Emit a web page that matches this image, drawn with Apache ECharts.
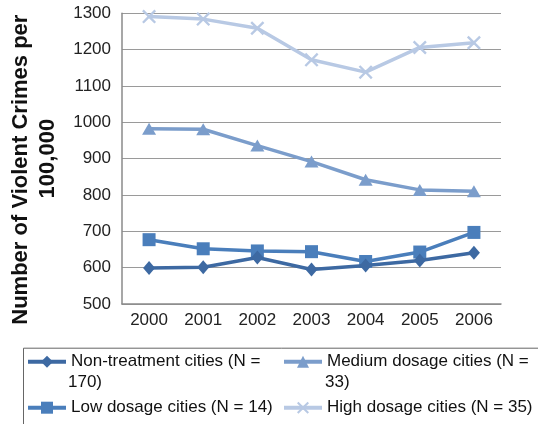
<!DOCTYPE html>
<html>
<head>
<meta charset="utf-8">
<script src="https://cdn.jsdelivr.net/npm/echarts@6/dist/echarts.min.js"></script>
<style>html,body{margin:0;padding:0;background:#fff;}#c{width:538px;height:424px;}</style>
</head>
<body>
<div id="c"></div>
<script>
var years = ['2000','2001','2002','2003','2004','2005','2006'];
var nonTreatment = [599, 601, 628, 595, 606, 620, 641];
var lowDosage = [677, 652, 646, 644, 617, 643, 697];
var mediumDosage = [982, 981, 936, 892, 842, 814, 810];
var highDosage = [1291, 1284, 1259, 1172, 1138, 1206, 1219];
var seriesNames = ['Non-treatment cities (N = 170)', 'Low dosage cities (N = 14)', 'Medium dosage cities (N = 33)', 'High dosage cities (N = 35)'];
var yTitle = ['Number of Violent Crimes per', '100,000'];

var FONT = 'Liberation Sans';
var colors = ['#3d69a2', '#4a7ebb', '#7b9dcb', '#b8c9e4'];
var crossPath = 'path://M0,1.2L1.2,0L5,3.8L8.8,0L10,1.2L6.2,5L10,8.8L8.8,10L5,6.2L1.2,10L0,8.8L3.8,5Z';

function legendFor(name, left, top, text) {
  return {
    data: [name], left: left, top: top, padding: 0,
    itemWidth: 38, itemHeight: 15, selectedMode: false,
    lineStyle: { width: 4 },
    formatter: function () { return text; },
    textStyle: { fontFamily: FONT, fontSize: 17, color: '#111' }
  };
}

var chart = echarts.init(document.getElementById('c'), null, { renderer: 'canvas' });
chart.setOption({
  animation: false,
  color: colors,
  grid: { left: 122, right: 37, top: 13.3, bottom: 120, containLabel: false, outerBoundsMode: 'none' },
  xAxis: {
    type: 'category', data: years, boundaryGap: true,
    axisLine: { lineStyle: { color: '#8a8a8a', width: 1.5 } },
    axisTick: { show: false },
    axisLabel: { fontFamily: FONT, fontSize: 17, color: '#222', margin: 8 }
  },
  yAxis: {
    type: 'value', min: 500, max: 1300, interval: 100,
    axisLine: { show: true, lineStyle: { color: '#8a8a8a', width: 1.5 } },
    axisTick: { show: false },
    splitLine: { lineStyle: { color: '#9a9a9a', width: 1.2 } },
    axisLabel: { fontFamily: FONT, fontSize: 17, color: '#222', margin: 11,
      formatter: function (v) { return String(v); } },
    name: '{a|' + yTitle[0] + '}\n{b|' + yTitle[1] + '}',
    nameLocation: 'middle', nameGap: 61,
    nameTextStyle: {
      fontFamily: FONT, fontSize: 22, fontWeight: 'bold', color: '#111', lineHeight: 27,
      rich: {
        a: { fontFamily: FONT, fontSize: 22, fontWeight: 'bold', color: '#111', lineHeight: 27, padding: [0, 22, 0, 0] },
        b: { fontFamily: FONT, fontSize: 22, fontWeight: 'bold', color: '#111', lineHeight: 27 }
      }
    }
  },
  legend: [
    legendFor(seriesNames[0], 26, 353.2, 'Non-treatment cities (N ='),
    legendFor(seriesNames[1], 26, 399.2, 'Low dosage cities (N = 14)'),
    legendFor(seriesNames[2], 282, 353.2, 'Medium dosage cities (N ='),
    legendFor(seriesNames[3], 282, 399.2, 'High dosage cities (N = 35)')
  ],
  graphic: [
    { type: 'rect', left: 21, top: 345.7, z: -1, silent: true,
      shape: { width: 530, height: 77 },
      style: { fill: 'none', stroke: '#666', lineWidth: 1 } },
    { type: 'text', left: 68, top: 374, silent: true,
      style: { text: '170)', font: '17px "Liberation Sans"', fill: '#111' } },
    { type: 'text', left: 325, top: 374, silent: true,
      style: { text: '33)', font: '17px "Liberation Sans"', fill: '#111' } }
  ],
  series: [
    { name: seriesNames[0], type: 'line', data: nonTreatment, symbol: 'diamond', symbolSize: [12, 14],
      lineStyle: { width: 3.5 }, z: 5 },
    { name: seriesNames[1], type: 'line', data: lowDosage, symbol: 'rect', symbolSize: 13,
      lineStyle: { width: 3.5 }, z: 4 },
    { name: seriesNames[2], type: 'line', data: mediumDosage, symbol: 'triangle', symbolSize: [14, 12],
      lineStyle: { width: 3.5 }, z: 3 },
    { name: seriesNames[3], type: 'line', data: highDosage, symbol: crossPath, symbolSize: 14,
      lineStyle: { width: 3.5 }, z: 2 }
  ].map(function (s) { s.showSymbol = true; s.showAllSymbol = true; s.silent = true; return s; })
});
</script>
</body>
</html>
